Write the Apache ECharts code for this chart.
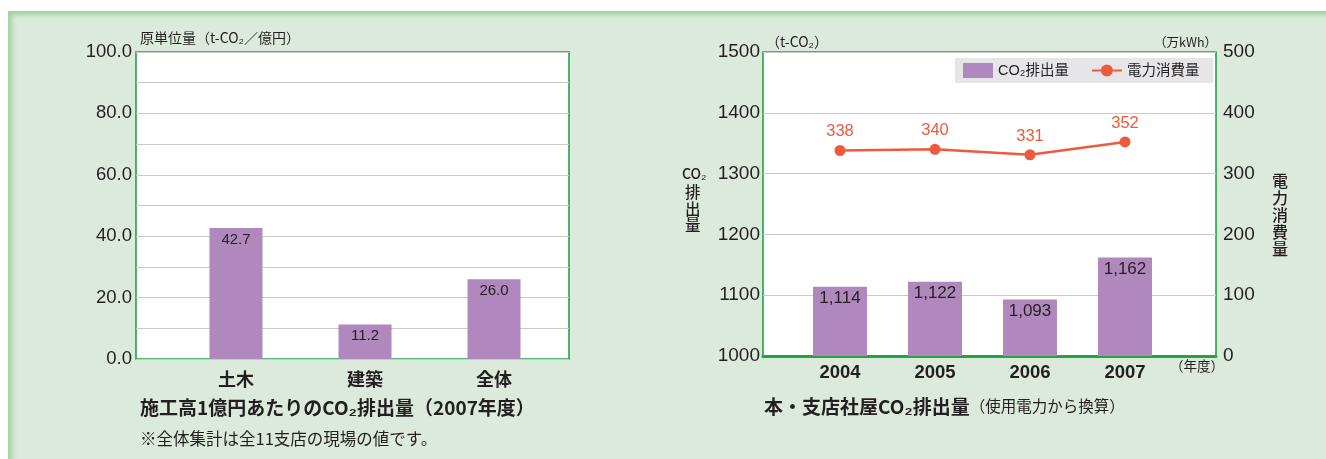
<!DOCTYPE html>
<html><head><meta charset="utf-8">
<script src="https://cdn.jsdelivr.net/npm/echarts@6/dist/echarts.min.js"></script>
<style>
html,body{margin:0;padding:0;background:#fff;}
#wrap{position:absolute;left:8px;top:11px;width:1318px;height:448px;background:#dbeadb;box-shadow:inset 6px 6px 5px -2px #a3d3a3;}
#chart{position:absolute;left:0;top:0;width:1326px;height:459px;}
</style></head>
<body>
<div id="wrap"></div>
<div id="chart"></div>
<script>
// Left chart data
var leftCategories = ['土木', '建築', '全体'];
var leftValues = [42.7, 11.2, 26.0];
// Right chart data
var years = ['2004', '2005', '2006', '2007'];
var co2Values = [1114, 1122, 1093, 1162];
var powerValues = [338, 340, 331, 352];

var FONT = '"Liberation Sans", "Noto Sans CJK JP", sans-serif';
var JP = '"Noto Sans CJK JP", "Liberation Sans", sans-serif';
var GREEN = '#1fa448';
var PURPLE = '#b088be';
var RED = '#ee5a3c';
var GRIDC = '#c9c9c9';
var TXT = '#231f20';

var chart = echarts.init(document.getElementById('chart'), null, {renderer: 'canvas'});

var option = {
  animation: false,
  textStyle: {fontFamily: FONT},
  grid: [
    {left: 136, top: 52, width: 433, height: 307, show: true, backgroundColor: '#fff', borderColor: GREEN, borderWidth: 1.6},
    {left: 171.5, top: 52, width: 387, height: 307},
    {left: 763, top: 52, width: 453, height: 304, show: true, backgroundColor: '#fff', borderColor: GREEN, borderWidth: 1.6},
    {left: 792.5, top: 52, width: 380, height: 304}
  ],
  xAxis: [
    {gridIndex: 0, type: 'value', min: 0, max: 1, show: false},
    {gridIndex: 1, type: 'category', data: leftCategories,
      axisLine: {show: false}, axisTick: {show: false},
      axisLabel: {margin: 11, fontSize: 18, fontWeight: 'bold', color: TXT, fontFamily: JP}},
    {gridIndex: 2, type: 'value', min: 0, max: 1, show: true,
      axisLine: {show: true, onZero: false, lineStyle: {color: GREEN, width: 3}},
      axisTick: {show: false}, axisLabel: {show: false}, splitLine: {show: false}},
    {gridIndex: 3, type: 'category', data: years,
      axisLine: {show: false}, axisTick: {show: false},
      axisLabel: {margin: 8, fontSize: 18.5, fontWeight: 'bold', color: TXT, fontFamily: FONT}}
  ],
  yAxis: [
    {gridIndex: 0, type: 'value', min: 0, max: 100, interval: 10,
      axisLine: {show: false}, axisTick: {show: false},
      splitLine: {lineStyle: {color: GRIDC, width: 1.2}},
      axisLabel: {fontSize: 18.5, color: TXT, margin: 4,
        formatter: function (v) { return (v % 20 === 0) ? v.toFixed(1) : ''; }}},
    {gridIndex: 1, type: 'value', min: 0, max: 100, show: false},
    {gridIndex: 2, type: 'value', min: 1000, max: 1500, interval: 100, position: 'left',
      axisLine: {show: false}, axisTick: {show: false},
      splitLine: {lineStyle: {color: GRIDC, width: 1.2}},
      axisLabel: {fontSize: 19, color: TXT, margin: 3, formatter: function (v) { return String(v); }}},
    {gridIndex: 2, type: 'value', min: 0, max: 500, interval: 100, position: 'right',
      axisLine: {show: false}, axisTick: {show: false}, splitLine: {show: false},
      axisLabel: {fontSize: 19, color: TXT, margin: 7, formatter: function (v) { return String(v); }}},
    {gridIndex: 3, type: 'value', min: 1000, max: 1500, show: false},
    {gridIndex: 3, type: 'value', min: 0, max: 500, show: false}
  ],
  legend: {
    left: 955, top: 58,
    backgroundColor: '#e6e6e8', padding: [5, 14, 5, 8], itemGap: 22,
    itemWidth: 30, itemHeight: 15,
    textStyle: {fontSize: 14.5, color: TXT, fontFamily: FONT},
    data: [{name: 'CO₂排出量', icon: 'rect'}, {name: '電力消費量'}]
  },
  series: [
    {type: 'bar', xAxisIndex: 1, yAxisIndex: 1, data: leftValues, barWidth: 53,
      itemStyle: {color: PURPLE},
      label: {show: true, position: 'insideTop', distance: 4, fontSize: 15, color: TXT,
        formatter: function (p) { return p.value.toFixed(1); }}},
    {name: 'CO₂排出量', type: 'bar', xAxisIndex: 3, yAxisIndex: 4, data: co2Values, barWidth: 54,
      itemStyle: {color: PURPLE},
      label: {show: true, position: 'insideTop', distance: 3, fontSize: 17, color: TXT,
        formatter: function (p) { return p.value.toLocaleString('en-US'); }}},
    {name: '電力消費量', type: 'line', xAxisIndex: 3, yAxisIndex: 5, data: powerValues,
      symbol: 'circle', symbolSize: 11,
      lineStyle: {color: RED, width: 2.5}, itemStyle: {color: RED},
      label: {show: true, position: 'top', distance: 5, fontSize: 16.5, color: RED}}
  ],
  graphic: [
    {type: 'text', left: 140, top: 31, style: {text: '原単位量（t-CO₂／億円）', fontSize: 14, fill: TXT, fontFamily: JP}},
    {type: 'text', left: 140, top: 398, style: {text: '施工高1億円あたりのCO₂排出量（2007年度）', fontSize: 19, fontWeight: 'bold', fill: TXT, fontFamily: JP}},
    {type: 'text', left: 140, top: 430, style: {text: '※全体集計は全11支店の現場の値です。', fontSize: 16.5, fill: TXT, fontFamily: JP}},
    {type: 'text', left: 766, top: 35, style: {text: '（t-CO₂）', fontSize: 14, fill: TXT, fontFamily: JP}},
    {type: 'text', right: 1326 - 1217, top: 36, style: {text: '（万kWh）', fontSize: 12.5, fill: TXT, fontFamily: JP, align: 'right'}},
    {type: 'text', left: 1170, top: 359, style: {text: '（年度）', fontSize: 13.5, fill: TXT, fontFamily: JP}},
    {type: 'text', left: 682, top: 167, style: {text: 'CO₂', fontSize: 14, fill: TXT, fontFamily: JP, fontWeight: 500}},
    {type: 'text', left: 685, top: 184, style: {text: '排\n出\n量', fontSize: 15.5, lineHeight: 16.5, fill: TXT, fontFamily: JP, fontWeight: 500}},
    {type: 'text', left: 1272, top: 172, style: {text: '電\n力\n消\n費\n量', fontSize: 16, lineHeight: 17, fill: TXT, fontFamily: JP, fontWeight: 500}},
    {type: 'text', left: 764, top: 397, style: {
      text: '{b|本・支店社屋CO₂排出量}{n|（使用電力から換算）}',
      rich: {b: {fontSize: 19, fontWeight: 'bold', fill: TXT, fontFamily: JP}, n: {fontSize: 15.5, fill: TXT, fontFamily: JP}}}}
  ]
};
chart.setOption(option);
</script>
</body></html>
